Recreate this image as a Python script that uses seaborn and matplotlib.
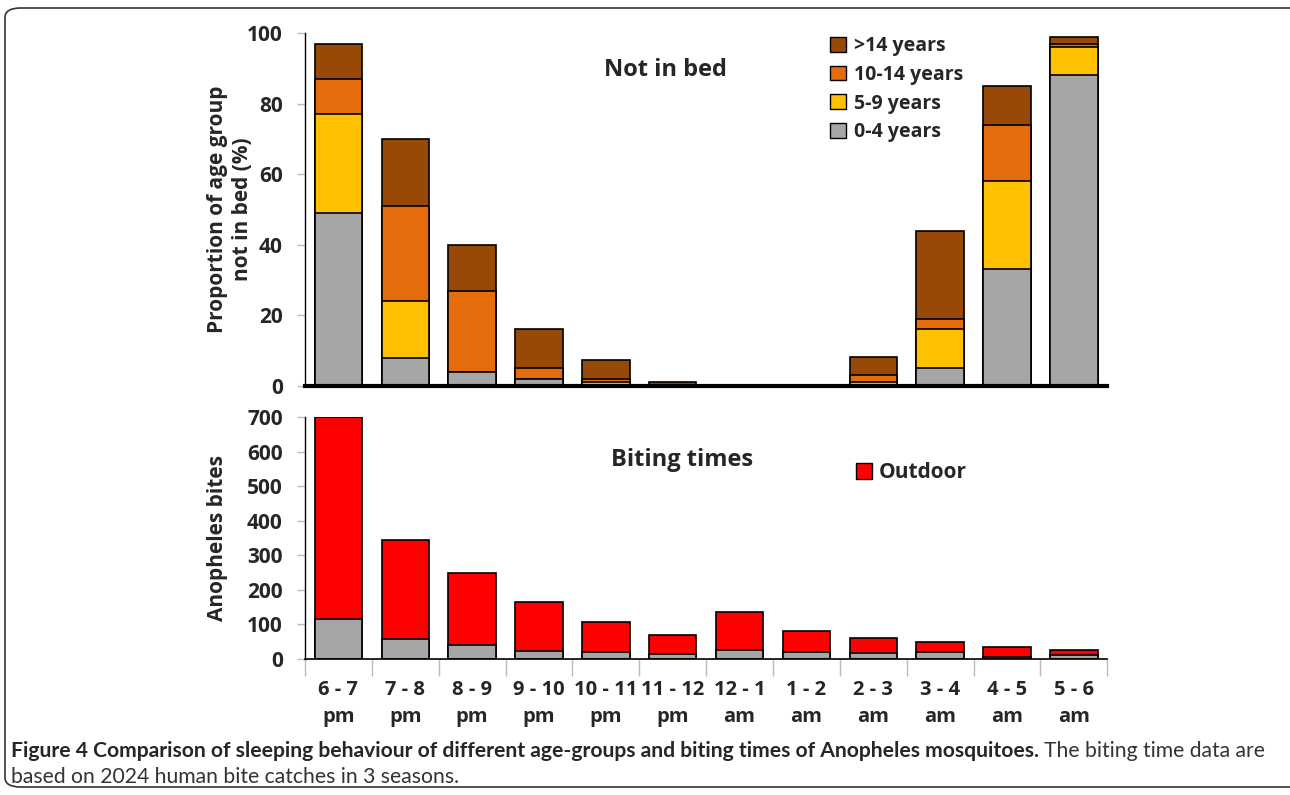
import numpy as np
import pandas as pd
import matplotlib.pyplot as plt
import seaborn as sns
from matplotlib.patches import FancyBboxPatch, Patch

# time slots
slots = ["6 - 7\npm", "7 - 8\npm", "8 - 9\npm", "9 - 10\npm", "10 - 11\npm", "11 - 12\npm",
         "12 - 1\nam", "1 - 2\nam", "2 - 3\nam", "3 - 4\nam", "4 - 5\nam", "5 - 6\nam"]

# proportion of age group not in bed (%)
age_0_4 = [49, 8, 4, 2, 0, 0, 0, 0, 0, 5, 33, 88]
age_5_9 = [28, 16, 0, 0, 1, 0, 0, 0, 1, 11, 25, 8]
age_10_14 = [10, 27, 23, 3, 1, 0, 0, 0, 2, 3, 16, 1]
age_14plus = [10, 19, 13, 11, 5.3, 1.2, 0, 0, 5.2, 25, 11, 2]

# anopheles bites
bites_total = [700, 345, 248, 166, 106, 69, 136, 81, 61, 50, 36, 26]
bites_grey = [115, 57, 40, 24, 21, 14, 27, 21, 18, 19, 7, 11]

grey = "#A6A6A6"
yellow = "#FFC000"
orange = "#E46C0A"
brown = "#984807"
red = "#FF0000"

sns.set_style("white")
plt.rcParams["font.family"] = ["Open Sans", "DejaVu Sans"]

df = pd.DataFrame({"slot": slots, "a": age_0_4, "b": age_5_9, "c": age_10_14, "d": age_14plus,
                   "tot": bites_total, "grey": bites_grey})
df["c1"] = df["a"]
df["c2"] = df["c1"] + df["b"]
df["c3"] = df["c2"] + df["c"]
df["c4"] = df["c3"] + df["d"]

fig = plt.figure(figsize=(12.9, 7.95), dpi=100)
ax1 = fig.add_axes([0.2364, 0.5145, 0.622, 0.444])
ax2 = fig.add_axes([0.2364, 0.1711, 0.622, 0.3044])

bar_kw = dict(errorbar=None, width=0.71, saturation=1, edgecolor="black", linewidth=1.2, order=slots)
for col, colr in [("c4", brown), ("c3", orange), ("c2", yellow), ("c1", grey)]:
    sns.barplot(data=df, x="slot", y=col, color=colr, ax=ax1, **bar_kw)
for col, colr in [("tot", red), ("grey", grey)]:
    sns.barplot(data=df, x="slot", y=col, color=colr, ax=ax2, **bar_kw)

# top panel
ax1.set_xlim(-0.5, 11.5)
ax1.set_ylim(0, 100)
ax1.set_yticks([0, 20, 40, 60, 80, 100])
ax1.set_xticks([])
ax1.set_xlabel("")
ax1.set_ylabel("Proportion of age group\nnot in bed (%)", fontsize=15, fontweight="bold", labelpad=-4)
for s in ["top", "right"]:
    ax1.spines[s].set_visible(False)
ax1.spines["bottom"].set_linewidth(3)
ax1.spines["left"].set_linewidth(1)
ax1.spines["left"].set_color("black")
ax1.spines["bottom"].set_color("black")
ax1.tick_params(axis="y", length=6, width=1, color="#BBBBBB", direction="out", left=True,
                labelsize=15, pad=10)
for t in ax1.get_yticklabels():
    t.set_fontweight("bold")
ax1.text(0.449, 0.895, "Not in bed", transform=ax1.transAxes, ha="center", va="center",
         fontsize=17, fontweight="bold")
handles = [Patch(facecolor=c, edgecolor="black", linewidth=1) for c in [brown, orange, yellow, grey]]
leg = ax1.legend(handles, [">14 years", "10-14 years", "5-9 years", "0-4 years"],
                 loc="upper left", bbox_to_anchor=(0.633, 1.041), frameon=False,
                 prop={"weight": "bold", "size": 14}, handlelength=0.8, handleheight=0.8,
                 handletextpad=0.4, labelspacing=0.45)

# bottom panel
ax2.set_xlim(-0.5, 11.5)
ax2.set_ylim(0, 700)
ax2.set_yticks(range(0, 701, 100))
ax2.set_xticks(np.arange(-0.5, 12, 1), minor=False)
ax2.set_xticklabels([])
ax2.set_xticks(range(12), minor=True)
ax2.set_xticklabels(slots, minor=True)
ax2.tick_params(axis="x", which="major", length=12, width=1, color="#BBBBBB", direction="out", bottom=True)
ax2.tick_params(axis="x", which="minor", length=0, labelsize=14.5, pad=15)
for t in ax2.get_xticklabels(minor=True):
    t.set_fontweight("bold")
    t.set_linespacing(1.5)
ax2.set_xlabel("")
ax2.set_ylabel("Anopheles bites", fontsize=15, fontweight="bold", labelpad=14)
for s in ["top", "right"]:
    ax2.spines[s].set_visible(False)
ax2.spines["bottom"].set_linewidth(1.2)
ax2.spines["left"].set_linewidth(1)
ax2.spines["left"].set_color("black")
ax2.spines["bottom"].set_color("black")
ax2.tick_params(axis="y", length=6, width=1, color="#BBBBBB", direction="out", left=True,
                labelsize=15, pad=10)
for t in ax2.get_yticklabels():
    t.set_fontweight("bold")
ax2.text(0.47, 0.822, "Biting times", transform=ax2.transAxes, ha="center", va="center",
         fontsize=17, fontweight="bold")
ax2.legend([Patch(facecolor=red, edgecolor="black", linewidth=1)], ["Outdoor"],
           loc="upper left", bbox_to_anchor=(0.663, 0.89), frameon=False,
           prop={"weight": "bold", "size": 15}, handlelength=0.8, handleheight=0.8,
           handletextpad=0.3)

# frame around the figure
frame = FancyBboxPatch((5 / 1290, 8 / 795), 1.02, 1 - 16 / 795, transform=fig.transFigure,
                       boxstyle="round,pad=0,rounding_size=0.012", fill=False,
                       edgecolor="#333333", linewidth=1.2, clip_on=False)
fig.patches.append(frame)

# caption
cap_font = ["Lato", "DejaVu Sans"]
fig.canvas.draw()
t1 = fig.text(11 / 1290, 1 - 751 / 795, "Figure 4 Comparison of sleeping behaviour of different age-groups "
              "and biting times of Anopheles mosquitoes.", fontsize=15.2, fontweight="bold",
              family=cap_font, va="center", ha="left")
bb = t1.get_window_extent(renderer=fig.canvas.get_renderer())
fig.text(bb.x1 / 1290 + 5 / 1290, 1 - 751 / 795, "The biting time data are", fontsize=15.2,
         family=cap_font, va="center", ha="left", color="#333333")
fig.text(11 / 1290, 1 - 777 / 795, "based on 2024 human bite catches in 3 seasons.", fontsize=15.2,
         family=cap_font, va="center", ha="left", color="#333333")

fig.savefig("out.png", dpi=100)
